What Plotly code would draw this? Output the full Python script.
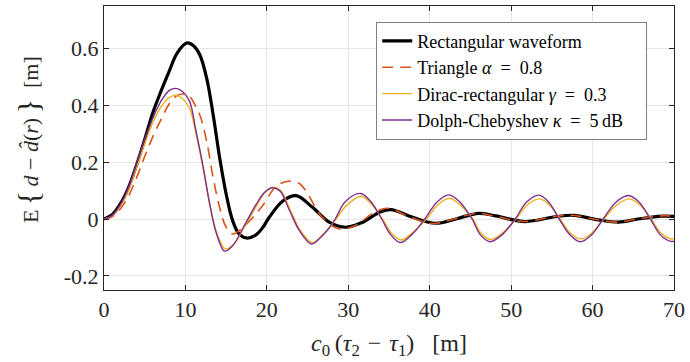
import plotly.graph_objects as go

# ---- data ----
rect_x = [0, 1, 2, 3, 4, 5, 6, 7, 8, 9, 10.2, 11, 11.75, 12.6, 13.4, 14.2, 15.0, 15.8, 16.6, 17.6,
          18.7, 19.5, 20.3, 22.0, 23.6, 25.6, 27.7, 29.7, 31.7, 33.8, 35.2, 37.9, 40.7, 43.2, 46.0,
          48.1, 51.7, 55.4, 57.7, 60.7, 63.2, 65.6, 68.5, 70]
rect_y = [0, 0.015, 0.053, 0.11, 0.19, 0.28, 0.375, 0.45, 0.52, 0.585, 0.62, 0.61, 0.579, 0.497,
          0.368, 0.216, 0.088, -0.006, -0.053, -0.067, -0.055, -0.03, 0.006, 0.064, 0.082, 0.041,
          -0.012, -0.029, -0.012, 0.023, 0.033, 0.006, -0.015, 0.0, 0.02, 0.011, -0.009, 0.008,
          0.013, -0.003, -0.011, 0.0, 0.01, 0.009]

tri_x = [0, 1, 2, 3, 4, 5, 6, 7, 8, 9, 9.9, 10.5, 11.2, 11.75, 12.6, 13.4, 14.2, 15.0, 15.8, 16.6,
         18.3, 19.6, 21.2, 22.9, 24.0, 24.8, 26.8, 28.9, 30.9, 32.9, 34.8, 37.5, 40.3, 43.0, 45.8,
         48.0, 51.5, 55.2, 57.5, 60.5, 63.0, 65.5, 68.3, 70]
tri_y = [0, 0.008, 0.035, 0.08, 0.145, 0.22, 0.29, 0.35, 0.405, 0.435, 0.44, 0.433, 0.4, 0.368,
         0.275, 0.146, 0.041, -0.029, -0.053, -0.041, 0.006, 0.052, 0.117, 0.134, 0.125, 0.099,
         0.006, -0.035, -0.023, 0.018, 0.038, 0.008, -0.016, 0.0, 0.02, 0.01, -0.009, 0.008, 0.013,
         -0.002, -0.011, 0.0, 0.011, 0.01]

dirac_x = [0, 1, 2, 3, 4, 5, 6, 7, 8, 8.8, 9.6, 10.5, 11.3, 12.2, 13.0, 13.8, 14.9, 15.9, 17.2,
           18.8, 19.8, 20.8, 21.7, 22.9, 24.1, 25.6, 26.7, 27.8, 28.5, 29.8, 31.6, 32.9, 34.2, 35.3,
           36.5, 37.8, 39.6, 41.0, 42.4, 43.7, 45.3, 46.3, 47.5, 48.9, 50.6, 52.0, 53.5, 54.7, 56.0,
           57.3, 58.6, 59.9, 61.4, 63.0, 64.5, 65.8, 67.2, 68.4, 69.6, 70]
dirac_y = [0, 0.01, 0.045, 0.1, 0.18, 0.265, 0.34, 0.395, 0.427, 0.436, 0.425, 0.39, 0.3, 0.175,
           0.05, -0.045, -0.105, -0.09, -0.03, 0.05, 0.095, 0.112, 0.1, 0.03, -0.04, -0.083, -0.06,
           -0.025, 0.0, 0.048, 0.08, 0.05, 0.0, -0.05, -0.074, -0.05, 0.0, 0.05, 0.073, 0.05, 0.0,
           -0.05, -0.072, -0.05, 0.0, 0.05, 0.071, 0.05, 0.0, -0.05, -0.07, -0.05, 0.0, 0.05, 0.071,
           0.05, 0.0, -0.05, -0.07, -0.069]

dolph_x = [0, 1, 2, 3, 4, 5, 6, 7, 8, 8.8, 9.6, 10.5, 11.3, 12.2, 13.0, 13.8, 14.8, 15.8, 17.1,
           18.7, 19.7, 20.6, 21.6, 22.8, 24.0, 25.5, 26.6, 27.7, 28.4, 29.6, 31.5, 32.8, 34.1, 35.2,
           36.4, 37.8, 39.4, 40.9, 42.35, 43.7, 45.2, 46.2, 47.4, 48.9, 50.5, 51.9, 53.4, 54.6, 55.9,
           57.2, 58.5, 59.9, 61.3, 62.9, 64.4, 65.7, 67.1, 68.3, 69.6, 70]
dolph_y = [0, 0.012, 0.05, 0.11, 0.195, 0.28, 0.355, 0.415, 0.452, 0.46, 0.45, 0.415, 0.31, 0.18,
           0.05, -0.05, -0.113, -0.094, -0.03, 0.052, 0.093, 0.11, 0.099, 0.029, -0.041, -0.088,
           -0.065, -0.03, 0.0, 0.06, 0.09, 0.06, 0.0, -0.055, -0.083, -0.055, 0.0, 0.06, 0.085, 0.06,
           0.0, -0.055, -0.08, -0.055, 0.0, 0.06, 0.084, 0.06, 0.0, -0.055, -0.08, -0.055, 0.0, 0.06,
           0.083, 0.06, 0.0, -0.055, -0.079, -0.078]

x_ticks = [0, 10, 20, 30, 40, 50, 60, 70]
y_ticks = [-0.2, 0, 0.2, 0.4, 0.6]
y_tick_text = ["-0.2", "0", "0.2", "0.4", "0.6"]

EQ = "\u2002=\u2002"
names = ["Rectangular waveform",
         "Triangle <i>α</i>" + EQ + "0.8",
         "Dirac-rectangular <i>γ</i>" + EQ + "0.3",
         "Dolph-Chebyshev <i>κ</i>" + EQ + "5\u2009dB\u2003"]

x_title = ("<i>c</i><sub>0</sub>\u2009(<i>τ</i><sub>2</sub>\u2004−\u2004<i>τ</i><sub>1</sub>)"
           "\u2002\u2005[m]")
y_title = ("E\u2009<span style=\"font-size:30px\">{</span>\u2009<i>d</i> − <i>d̂</i>(<i>r</i>)"
           "\u2009<span style=\"font-size:30px\">}</span>\u2002[m]")

FONT = "Liberation Serif"

fig = go.Figure()
fig.add_trace(go.Scatter(x=rect_x, y=rect_y, name=names[0], mode="lines",
                         line=dict(color="black", width=3.2, shape="spline", smoothing=1)))
fig.add_trace(go.Scatter(x=tri_x, y=tri_y, name=names[1], mode="lines",
                         line=dict(color="#D95319", width=1.6, dash="11px,7px", shape="spline", smoothing=1)))
fig.add_trace(go.Scatter(x=dirac_x, y=dirac_y, name=names[2], mode="lines",
                         line=dict(color="#EDB120", width=1.4, shape="spline", smoothing=1)))
fig.add_trace(go.Scatter(x=dolph_x, y=dolph_y, name=names[3], mode="lines",
                         line=dict(color="#7E2F8E", width=1.4, shape="spline", smoothing=1)))

axis_common = dict(showline=True, linecolor="#262626", linewidth=1, mirror="ticks",
                   ticks="inside", ticklen=5, tickcolor="#262626",
                   showgrid=True, gridcolor="#E6E6E6", gridwidth=1, zeroline=False,
                   tickfont=dict(family=FONT, size=22, color="#262626"))

fig.update_xaxes(range=[0, 70], tickvals=x_ticks,
                 title=dict(text=x_title, font=dict(family=FONT, size=24, color="#262626"), standoff=12),
                 **axis_common)
fig.update_yaxes(range=[-0.25, 0.75], tickvals=y_ticks, ticktext=y_tick_text, **axis_common)

fig.add_annotation(text=y_title, xref="paper", yref="paper", x=-0.134, y=0.53,
                   xanchor="center", yanchor="middle", textangle=-90, showarrow=False,
                   font=dict(family=FONT, size=22, color="#262626"))

fig.update_layout(
    width=690, height=362,
    margin=dict(l=104, r=14, t=5, b=72),
    paper_bgcolor="white", plot_bgcolor="white",
    font=dict(family=FONT, color="#262626"),
    showlegend=True,
    legend=dict(x=0.953, y=0.945, xanchor="right", yanchor="top",
                bgcolor="white", bordercolor="#808080", borderwidth=1,
                font=dict(family=FONT, size=18, color="black"),
                tracegroupgap=0, itemwidth=30),
)

fig.write_html("out.html")
